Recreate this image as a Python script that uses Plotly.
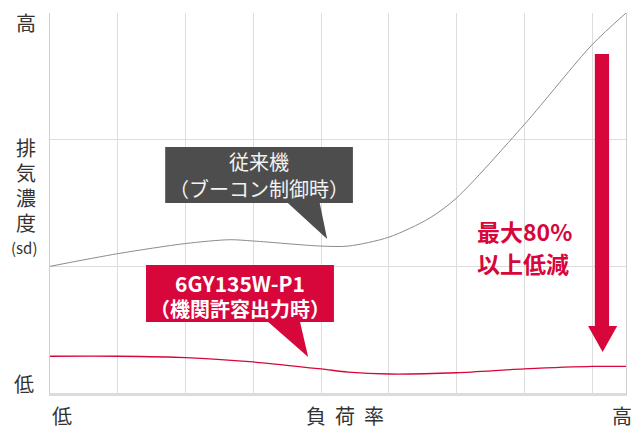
import plotly.graph_objects as go

# 負荷率 (grid units 0..8.5) vs 排気濃度 (0..3)
conv_load = [0.0, 1.0, 2.0, 2.65, 3.0, 4.0, 4.4, 5.0, 5.6, 6.0, 7.0, 8.0, 8.5]
conv_level = [1.0, 1.10, 1.18, 1.21, 1.20, 1.16, 1.16, 1.23, 1.38, 1.54, 2.12, 2.75, 3.0]

new_load = [0.0, 1.0, 2.0, 3.0, 4.0, 4.4, 5.0, 6.0, 7.0, 8.0, 8.5]
new_level = [0.29, 0.29, 0.28, 0.245, 0.19, 0.165, 0.15, 0.16, 0.19, 0.21, 0.21]

y_caption = ["排", "気", "濃", "度"]

RED = "#d7063b"
GRAY_BOX = "#4d4d4d"
TEXT = "#333333"
FONT = "Noto Sans CJK JP"

fig = go.Figure()

fig.add_trace(go.Scatter(
    x=conv_load, y=conv_level, mode="lines",
    line=dict(color="#8c8c8c", width=1, shape="spline", smoothing=0.8),
    hoverinfo="skip",
))
fig.add_trace(go.Scatter(
    x=new_load, y=new_level, mode="lines",
    line=dict(color=RED, width=1.3, shape="spline", smoothing=0.8),
    hoverinfo="skip",
))

shapes = [
    # gray callout (従来機)
    dict(type="path", xref="x", yref="y", line_width=0, fillcolor=GRAY_BOX,
         path="M1.70,1.942 L4.47,1.942 L4.47,1.50 L3.98,1.50 L4.09,1.216 "
              "L3.51,1.50 L1.70,1.50 Z"),
    # red callout (6GY135W-P1)
    dict(type="path", xref="x", yref="y", line_width=0, fillcolor=RED,
         path="M1.417,1.01 L4.19,1.01 L4.19,0.56 L3.69,0.56 L3.81,0.284 "
              "L3.22,0.56 L1.417,0.56 Z"),
    # reduction arrow
    dict(type="path", xref="x", yref="y", line_width=0, fillcolor=RED,
         path="M8.04,2.676 L8.25,2.676 L8.25,0.529 L8.37,0.529 L8.155,0.324 "
              "L7.94,0.529 L8.04,0.529 Z"),
]

annotations = [
    dict(x=3.08, y=1.824, text="従来機", font=dict(size=20, color="#f2f2f2")),
    dict(x=3.08, y=1.618, text="（ブーコン制御時）", font=dict(size=20, color="#f2f2f2")),
    dict(x=2.80, y=0.868, text="<b>6GY135W-P1</b>", font=dict(size=21, color="white")),
    dict(x=2.80, y=0.671, text="<b>（機関許容出力時）</b>", font=dict(size=20, color="white")),
    dict(x=6.27, y=1.279, text="<b>最大80%</b>", xanchor="left",
         font=dict(size=23, color=RED)),
    dict(x=6.27, y=1.026, text="<b>以上低減</b>", xanchor="left",
         font=dict(size=23, color=RED)),
]
for a in annotations:
    a.setdefault("xanchor", "center")
    a.update(xref="x", yref="y", yanchor="middle", showarrow=False,
             font_family=FONT)

# axis captions outside the plot area
captions = [
    dict(x=-0.042, y=0.976, text="高", font=dict(size=20)),
    dict(x=-0.045, y=0.384, text="(sd)", font=dict(size=15)),
    dict(x=-0.045, y=0.026, text="低", font=dict(size=20)),
    dict(x=0.021, y=-0.058, text="低", font=dict(size=20)),
    dict(x=0.512, y=-0.058, text="負&nbsp;&nbsp;荷&nbsp;&nbsp;率", font=dict(size=20)),
    dict(x=0.993, y=-0.058, text="高", font=dict(size=20)),
]
for i, ch in enumerate(y_caption):
    captions.append(dict(x=-0.042, y=0.647 - i * 0.0658, text=ch, font=dict(size=20)))
for c in captions:
    c.update(xref="paper", yref="paper", xanchor="center", yanchor="middle",
             showarrow=False, font_family=FONT, font_color=TEXT)

# the page body has an 8px margin, so the figure is 8px smaller and offset
fig.update_layout(
    width=632, height=432,
    margin=dict(l=42, r=14, t=5, b=47),
    paper_bgcolor="white", plot_bgcolor="white",
    showlegend=False,
    font=dict(family=FONT, color=TEXT),
    shapes=shapes,
    annotations=annotations + captions,
    xaxis=dict(range=[0, 8.5], dtick=1, tick0=0, showticklabels=False,
               showgrid=True, gridcolor="#dddddd", gridwidth=1, zeroline=False,
               showline=True, linecolor="#dcdcdc", linewidth=3, ticks=""),
    yaxis=dict(range=[0, 3], dtick=1, tick0=0, showticklabels=False,
               showgrid=True, gridcolor="#dddddd", gridwidth=1, zeroline=False,
               showline=True, linecolor="#cfcfcf", linewidth=1, mirror=True,
               ticks=""),
)

fig.write_html("out.html")
